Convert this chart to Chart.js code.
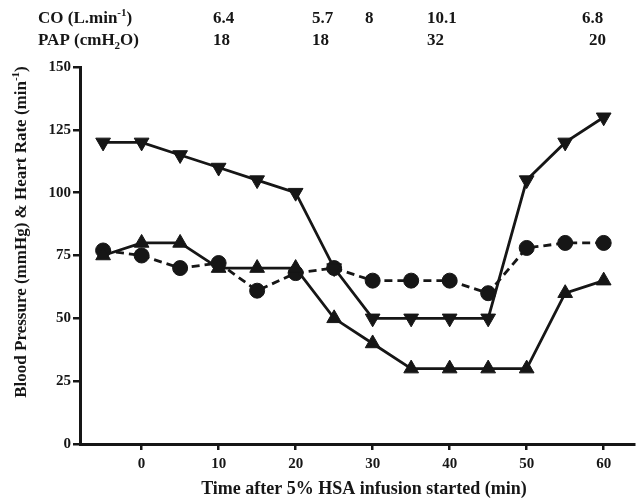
<!DOCTYPE html>
<html>
<head>
<meta charset="utf-8">
<script src="https://cdn.jsdelivr.net/npm/chart.js@4"></script>
<style>
  html, body { margin: 0; padding: 0; background: #fff; }
  #wrap { width: 644px; height: 502px; }
</style>
</head>
<body>
<div id="wrap"><canvas id="chart" width="644" height="502"></canvas></div>
<script>
// ── Data ────────────────────────────────────────────────────────────
const times     = [-5, 0, 5, 10, 15, 20, 25, 30, 35, 40, 45, 50, 55, 60];
const sysBP     = [120, 120, 115, 110, 105, 100, 70, 50, 50, 50, 50, 105, 120, 130]; // ▼
const diaBP     = [75, 80, 80, 70, 70, 70, 50, 40, 30, 30, 30, 30, 60, 65];         // ▲
const heartRate = [77, 75, 70, 72, 61, 68, 70, 65, 65, 65, 60, 78, 80, 80];         // ● dashed

const xTicks = [0, 10, 20, 30, 40, 50, 60];
const yTicks = [0, 25, 50, 75, 100, 125, 150];

const coValues  = ['6.4', '5.7', '8', '10.1', '6.8'];
const papValues = ['18', '18', '32', '20'];

// left edge (px) of each value in the header rows
const coLeft  = [213, 312, 365, 427, 582];
const papLeft = [213, 312, 427, 589];

const INK  = '#161616';
const FONT = "'Liberation Serif', 'Times New Roman', serif";

const pts = arr => times.map((t, i) => ({ x: t, y: arr[i] }));

// ── Header + axis titles ────────────────────────────────────────────
function richText(ctx, x, y, parts, big, small) {
  // parts: [text, mode] with mode '', 'sup' or 'sub'
  for (const [txt, mode] of parts) {
    ctx.font = `bold ${mode ? small : big}px ${FONT}`;
    const dy = mode === 'sup' ? -big * 0.4 : mode === 'sub' ? big * 0.25 : 0;
    ctx.fillText(txt, x, y + dy);
    x += ctx.measureText(txt).width;
  }
  return x;
}

function richWidth(ctx, parts, big, small) {
  let w = 0;
  for (const [txt, mode] of parts) {
    ctx.font = `bold ${mode ? small : big}px ${FONT}`;
    w += ctx.measureText(txt).width;
  }
  return w;
}

const textPlugin = {
  id: 'texts',
  afterDraw(chart) {
    const ctx = chart.ctx;
    ctx.save();
    ctx.fillStyle = INK;
    ctx.textBaseline = 'alphabetic';
    ctx.textAlign = 'left';

    richText(ctx, 38, 23, [['CO (L.min', ''], ['-1', 'sup'], [')', '']], 17, 11);
    richText(ctx, 38, 45, [['PAP (cmH', ''], ['2', 'sub'], ['O)', '']], 17, 11);

    ctx.font = `bold 17px ${FONT}`;
    coValues.forEach((v, i) => ctx.fillText(v, coLeft[i], 23));
    papValues.forEach((v, i) => ctx.fillText(v, papLeft[i], 45));

    // x title
    ctx.font = `bold 18px ${FONT}`;
    ctx.textAlign = 'center';
    ctx.fillText('Time after 5% HSA infusion started (min)', 364, 494);

    // y title (rotated)
    const yParts = [['Blood Pressure (mmHg) & Heart Rate (min', ''], ['-1', 'sup'], [')', '']];
    ctx.translate(26, 232);
    ctx.rotate(-Math.PI / 2);
    ctx.textAlign = 'left';
    const w = richWidth(ctx, yParts, 17, 11);
    richText(ctx, -w / 2, 0, yParts, 17, 11);
    ctx.restore();
  },
};

// ── Chart ───────────────────────────────────────────────────────────
const lineDefaults = {
  borderColor: INK,
  backgroundColor: INK,
  pointBackgroundColor: INK,
  pointBorderColor: INK,
  borderWidth: 2.8,
  pointRadius: 7.5,
  pointBorderWidth: 1,
  fill: false,
  tension: 0,
};

new Chart(document.getElementById('chart'), {
  type: 'line',
  data: {
    datasets: [
      { ...lineDefaults, label: 'Systolic', data: pts(sysBP),
        pointStyle: 'triangle', pointRotation: 180, pointRadius: 8.5 },
      { ...lineDefaults, label: 'Diastolic', data: pts(diaBP),
        pointStyle: 'triangle', pointRadius: 8.5 },
      { ...lineDefaults, label: 'Heart rate', data: pts(heartRate),
        pointStyle: 'circle', borderDash: [8, 5] },
    ],
  },
  options: {
    responsive: false,
    animation: false,
    events: [],
    layout: { padding: { top: 67, right: 5, left: 0, bottom: 0 } },
    plugins: { legend: { display: false }, tooltip: { enabled: false } },
    scales: {
      x: {
        type: 'linear',
        min: -8,
        max: 64,
        afterBuildTicks: s => { s.ticks = xTicks.map(v => ({ value: v })); },
        afterFit: s => { s.height = 58; s.paddingLeft = 0; s.paddingRight = 0; },
        border: { display: true, color: INK, width: 3 },
        grid: { drawOnChartArea: false, drawTicks: true, tickLength: 6, color: INK, lineWidth: 2.5 },
        ticks: { color: INK, font: { family: FONT, size: 15, weight: 'bold' }, padding: 5, maxRotation: 0 },
      },
      y: {
        min: 0,
        max: 150,
        afterBuildTicks: s => { s.ticks = yTicks.map(v => ({ value: v })); },
        afterFit: s => { s.width = 80; s.paddingTop = 0; s.paddingBottom = 0; },
        border: { display: true, color: INK, width: 3 },
        grid: { drawOnChartArea: false, drawTicks: true, tickLength: 7, color: INK, lineWidth: 2.5 },
        ticks: { color: INK, font: { family: FONT, size: 15, weight: 'bold' }, padding: 2 },
      },
    },
  },
  plugins: [textPlugin],
});
</script>
</body>
</html>
